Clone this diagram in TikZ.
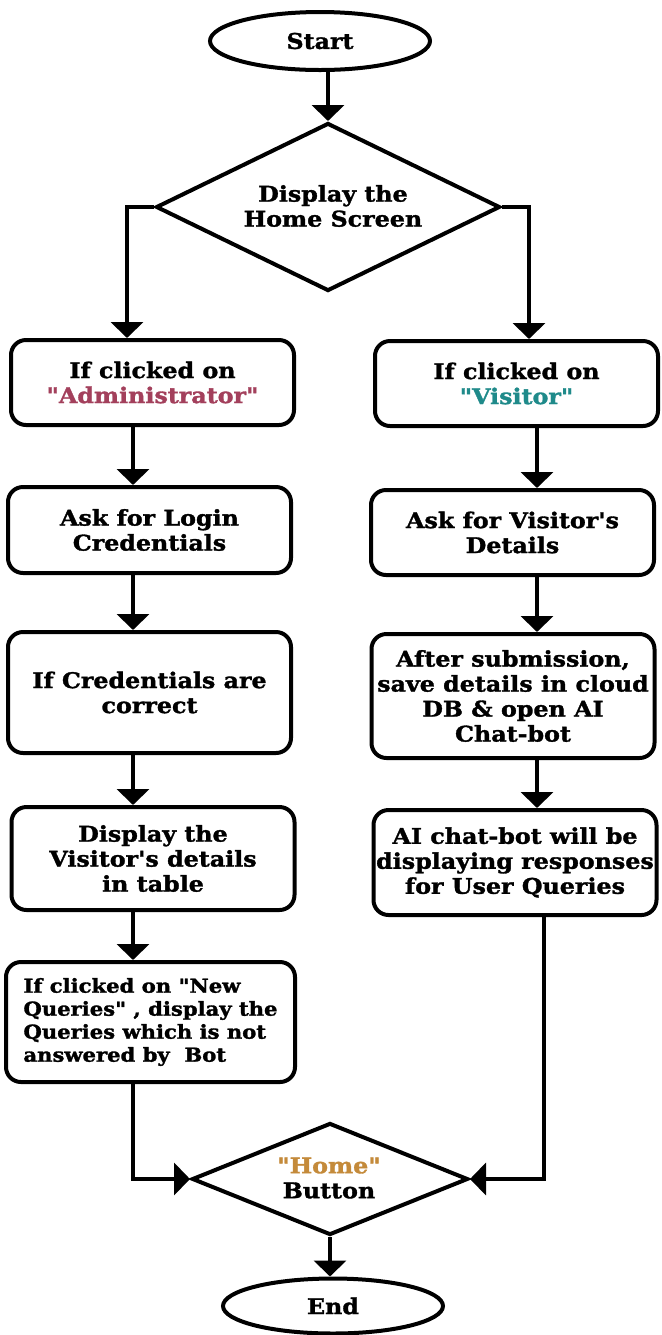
\documentclass[tikz,border=0pt]{standalone}
\usepackage{fontspec}
\newfontfamily\boxfont{DejaVu Serif Bold}[FakeStretch=1.1,FakeBold=1.5]
\usetikzlibrary{shapes.geometric,arrows.meta,calc}
\definecolor{admcol}{HTML}{A3405C}
\definecolor{viscol}{HTML}{1F8A8A}
\definecolor{homecol}{HTML}{C48A3A}
\begin{document}
\begin{tikzpicture}[x=0.5pt,y=-0.5pt,
  every node/.style={font=\boxfont\fontsize{10.8}{12.5}\selectfont},
  box/.style={draw, line width=2pt, rounded corners=7.5pt, inner sep=0pt, align=center, minimum width=141.5pt},
  ell/.style={draw, ellipse, line width=2pt, inner sep=0pt},
  diam/.style={draw, diamond, line width=2pt, inner sep=0pt},
  txt/.style={align=center, inner sep=0pt},
  arr/.style={line width=2pt, -{Triangle[width=16pt,length=8pt]}}]
\useasboundingbox (0,0) rectangle (662,1335);
\fill[white] (0,0) rectangle (662,1335);

\node[ell, minimum width=110pt, minimum height=29pt] (start) at (320,41) {Start};
\node[diam, minimum width=172pt, minimum height=84pt] (hd) at (328,207) {};
\node[txt] (hdt) at (333,206) {Display the\\Home Screen};

\node[box, minimum height=42.5pt] (admin) at (152.5,382.5) {If clicked on\\\textcolor{admcol}{"Administrator"}};
\node[box, minimum height=42.5pt] (visitor) at (516.5,383.5) {If clicked on\\\textcolor{viscol}{"Visitor"}};
\node[box, minimum height=43pt] (login) at (149.5,530) {Ask for Login\\Credentials};
\node[box, minimum height=42.5pt] (vdet) at (512.5,532.5) {Ask for Visitor's\\Details};
\node[box, minimum height=60.5pt] (cred) at (149.5,692.5) {If Credentials are\\correct};
\node[box, minimum height=62pt] (after) at (513,696) {After submission,\\save details in cloud\\DB \& open AI\\Chat-bot};
\node[box, minimum height=51.5pt] (disp) at (153,858.5) {Display the\\Visitor's details\\in table};
\node[box, minimum height=52.5pt] (ai) at (515,862.5) {AI chat-bot will be\\displaying responses\\for User Queries};
\node[box, align=left, minimum width=144.5pt, minimum height=60pt, font=\boxfont\fontsize{9.6}{11.5}\selectfont] (newq) at (150.5,1022) {If clicked on "New\\Queries" , display the\\Queries which is not\\answered by~ Bot};

\node[diam, minimum width=138pt, minimum height=56pt] (home) at (330,1179) {};
\node[txt] (homet) at (329,1178) {\textcolor{homecol}{"Home"}\\Button};
\node[ell, minimum width=110pt, minimum height=27.5pt] (end) at (333,1306) {End};

\coordinate (lx) at (127,0);
\coordinate (rx) at (529,0);
\coordinate (lc) at (133,0);
\coordinate (rc) at (537,0);
\coordinate (rb) at (544,0);

\draw[arr] (start.south -| hd.north) -- (hd.north);
\draw[arr] (hd.west) -| (admin.north -| lx);
\draw[arr] (hd.east) -| (visitor.north -| rx);
\draw[arr] (admin.south -| lc) -- (login.north -| lc);
\draw[arr] (login.south -| lc) -- (cred.north -| lc);
\draw[arr] (cred.south -| lc) -- (disp.north -| lc);
\draw[arr] (disp.south -| lc) -- (newq.north -| lc);
\draw[arr] (visitor.south -| rc) -- (vdet.north -| rc);
\draw[arr] (vdet.south -| rc) -- (after.north -| rc);
\draw[arr] (after.south -| rc) -- (ai.north -| rc);
\draw[arr] (newq.south -| lc) |- (home.west);
\draw[arr] (ai.south -| rb) |- (home.east);
\draw[arr] (home.south) -- (home.south |- end.north);
\end{tikzpicture}
\end{document}
